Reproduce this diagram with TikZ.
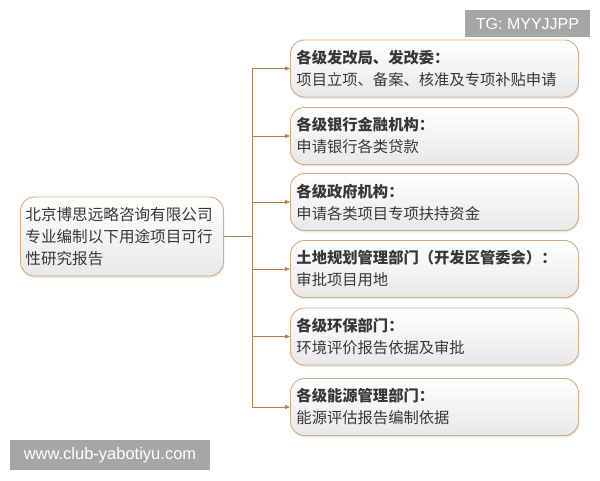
\documentclass[tikz,border=0pt]{standalone}
\usepackage{fontspec}
\setmainfont{Noto Sans CJK SC}
\newfontfamily\wmfont{Liberation Sans}
\usetikzlibrary{shadows,arrows.meta}
\definecolor{boxline}{RGB}{214,170,130}
\definecolor{conn}{RGB}{190,125,75}
\definecolor{txt}{RGB}{55,55,55}
\definecolor{wm}{RGB}{166,166,166}
\tikzset{
  cbox/.style={draw=boxline, line width=0.9pt, rounded corners=14pt,
    top color=white, bottom color=black!9,
    drop shadow={opacity=0.18, shadow xshift=0.8pt, shadow yshift=-1.8pt},
    align=left, text=txt, inner xsep=6pt, inner ysep=4pt,
    font=\fontsize{15.3}{22}\selectfont},
  rbox/.style={cbox, text width=276pt, minimum height=57pt, anchor=west},
  link/.style={draw=conn, line width=0.9pt},
  arr/.style={link, -{Triangle[length=5pt,width=4pt]}},
  wmbox/.style={fill=wm, text=white, inner sep=0pt}
}
\begin{document}
\begin{tikzpicture}[x=1pt,y=-1pt]
\useasboundingbox (0,0) rectangle (600,480);
\fill[white] (0,0) rectangle (600,480);
\node[cbox, inner xsep=5pt, text width=193pt, minimum height=79pt, anchor=west,
  font=\fontsize{15.6}{22}\selectfont] (L) at (20,236.5)
  {北京博思远略咨询有限公司\\专业编制以下用途项目可行\\性研究报告};
\node[rbox] (b1) at (290,68.5) {\textbf{各级发改局、发改委：}\\项目立项、备案、核准及专项补贴申请};
\node[rbox] (b2) at (290,136) {\textbf{各级银行金融机构：}\\申请银行各类贷款};
\node[rbox] (b3) at (290,202) {\textbf{各级政府机构：}\\申请各类项目专项扶持资金};
\node[rbox] (b4) at (290,269) {\textbf{土地规划管理部门（开发区管委会）：}\\审批项目用地};
\node[rbox] (b5) at (290,336.5) {\textbf{各级环保部门：}\\环境评价报告依据及审批};
\node[rbox] (b6) at (290,407) {\textbf{各级能源管理部门：}\\能源评估报告编制依据};
\coordinate (t) at (252,0);
\draw[link] (L.east) -- (L.east -| t);
\draw[link] (b1.west -| t) -- (b6.west -| t);
\foreach \b in {b1,b2,b3,b4,b5,b6}
  \draw[arr] (\b.west -| t) -- (\b.west);
\node[wmbox, minimum width=125pt, minimum height=27pt, font=\wmfont\fontsize{16}{18}\selectfont] (w1) at (527.5,23.5) {TG: MYYJJPP};
\node[wmbox, minimum width=200pt, minimum height=30pt, font=\wmfont\fontsize{16.5}{18}\selectfont] (w2) at (110,455) {www.club-yabotiyu.com};
\end{tikzpicture}
\end{document}
